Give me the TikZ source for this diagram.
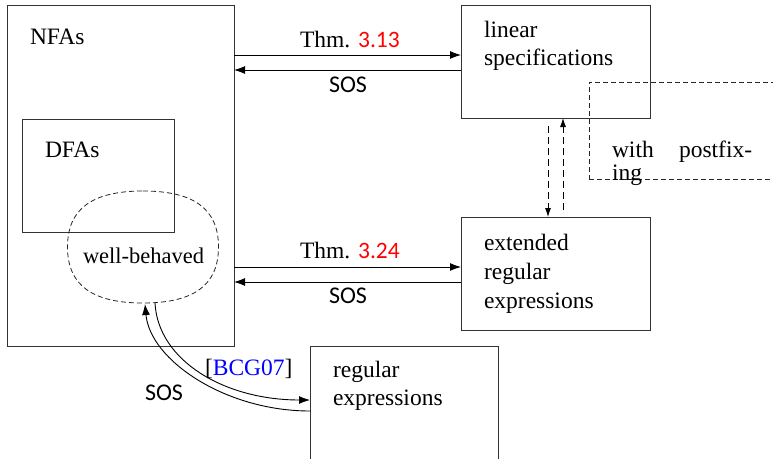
\documentclass[tikz,border=0pt]{standalone}
\usepackage{fontspec}
\setmainfont{Liberation Serif}
\newfontfamily\sosfont{Carlito}
\usetikzlibrary{arrows.meta}
\begin{document}
\begin{tikzpicture}[x=1pt,y=1pt,
  every node/.style={inner sep=0pt, outer sep=0pt},
  box/.style={draw=black!80, line width=0.9pt},
  dbox/.style={draw=black!85, line width=0.8pt, dash pattern=on 5pt off 3pt},
  txt/.style={anchor=base west, font=\fontsize{23.5}{28}\selectfont},
  sos/.style={anchor=base west, font=\sosfont\fontsize{24}{28}\selectfont},
  arr/.style={line width=0.9pt, -{Latex[length=11pt,width=8pt]}},
  darr/.style={line width=0.8pt, dash pattern=on 7pt off 4pt, -{Latex[length=9pt,width=6pt]}},
]
\useasboundingbox (0,0) rectangle (773,-458);
\clip (0,0) rectangle (773,-458);

% boxes
\node[box, minimum width=227pt, minimum height=341pt] (nfa) at (120.5,-175.5) {};
\node[box, minimum width=152pt, minimum height=113pt] (dfa) at (98,-175.5) {};
\node[minimum width=151pt, minimum height=112pt] (wb) at (143,-247) {};
\draw[dbox] (wb.north) .. controls ([xshift=51pt]wb.north) and ([yshift=38pt]wb.east) .. (wb.east)
  .. controls ([yshift=-38pt]wb.east) and ([xshift=51pt]wb.south) .. (wb.south)
  .. controls ([xshift=-51pt]wb.south) and ([yshift=-38pt]wb.west) .. (wb.west)
  .. controls ([yshift=38pt]wb.west) and ([xshift=-51pt]wb.north) .. cycle;
\node[box, minimum width=189pt, minimum height=113pt] (lin) at (555.5,-61.5) {};
\node[box, minimum width=189pt, minimum height=113pt] (ext) at (555.5,-273.5) {};
\node[box, minimum width=188pt, minimum height=113pt] (reg) at (404,-402.5) {};
\node[dbox, minimum width=189pt, minimum height=97pt] (post) at (683.5,-130.5) {};

% texts in boxes
\node[txt] (tnfa) at (30,-44) {NFAs};
\node[txt] (tdfa) at (45,-157) {DFAs};
\node[txt, font=\fontsize{22.5}{26}\selectfont] (twb) at (83,-263) {well-behaved};
\node[txt] (tlin1) at (484,-37) {linear};
\node[txt] (tlin2) at (484,-65) {specifications};
\node[txt] (text1) at (484,-250) {extended};
\node[txt] (text2) at (484,-279) {regular};
\node[txt] (text3) at (484,-308) {expressions};
\node[txt] (treg1) at (333,-377) {regular};
\node[txt] (treg2) at (333,-405) {expressions};
\node[txt] (tpost1) at (612,-157) {with};
\node[txt] (tpost2) at (679,-157) {postfix-};
\node[txt] (tpost3) at (612,-180) {ing};

% horizontal arrows
\coordinate (t1) at ([yshift=6.5pt]lin.west);
\coordinate (t2) at ([yshift=-8.5pt]lin.west);
\coordinate (m1) at ([yshift=6.5pt]ext.west);
\coordinate (m2) at ([yshift=-8.5pt]ext.west);
\draw[arr] (t1 -| nfa.east) -- (t1);
\draw[arr] (t2) -- (t2 -| nfa.east);
\draw[arr] (m1 -| nfa.east) -- (m1);
\draw[arr] (m2) -- (m2 -| nfa.east);

\node[txt] (l1) at (300,-47) {Thm. {\sosfont\textcolor{red}{3.13}}};
\node[sos] (l2) at (329,-92) {SOS};
\node[txt] (l3) at (300,-258) {Thm. {\sosfont\textcolor{red}{3.24}}};
\node[sos] (l4) at (329,-303) {SOS};

% vertical dashed arrows
\draw[darr] ([xshift=-7.5pt,yshift=-8pt]lin.south) -- ([xshift=-7.5pt]ext.north);
\draw[darr] ([xshift=7.5pt,yshift=7pt]ext.north) -- ([xshift=7.5pt]lin.south);

% curved arrows
\draw[arr] ([yshift=-8.5pt]reg.west) .. controls +(-85,0) and ([shift={(7pt,-57pt)}]wb.south) .. ([xshift=2pt,yshift=-1pt]wb.south);
\draw[arr] ([xshift=12pt]wb.south) .. controls +(3,-58) and ([shift={(-85pt,2.5pt)}]reg.west) .. ([yshift=2.5pt]reg.west);
\node[txt] (l5) at (205,-375) {[\textcolor{blue}{BCG07}]};
\node[sos] (l6) at (145,-400) {SOS};
\end{tikzpicture}
\end{document}
